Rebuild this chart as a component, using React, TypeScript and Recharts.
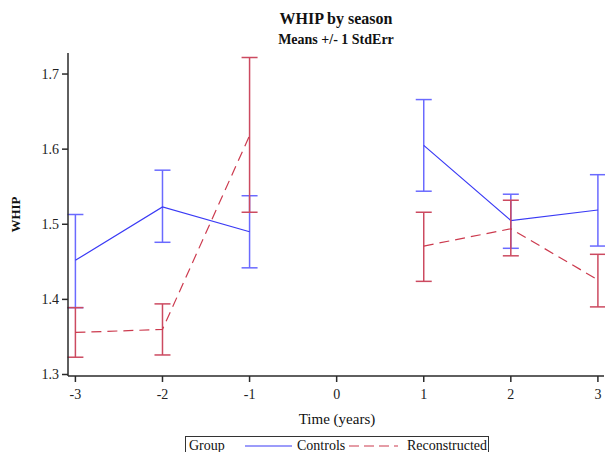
import type { FC } from 'react';
import { LineChart, Line, XAxis, YAxis, ErrorBar } from 'recharts';

const times = [-3, -2, -1, 0, 1, 2, 3];

const controlsMean = [1.452, 1.523, 1.49, null, 1.605, 1.505, 1.519];
const controlsLow = [1.389, 1.476, 1.442, null, 1.544, 1.468, 1.471];
const controlsHigh = [1.513, 1.572, 1.538, null, 1.666, 1.54, 1.566];

const reconMean = [1.356, 1.36, 1.618, null, 1.471, 1.494, 1.426];
const reconLow = [1.323, 1.326, 1.516, null, 1.424, 1.458, 1.39];
const reconHigh = [1.389, 1.394, 1.722, null, 1.516, 1.532, 1.46];

const xTicks = [-3, -2, -1, 0, 1, 2, 3];
const yTicks = [1.3, 1.4, 1.5, 1.6, 1.7];

const errOf = (m: number | null, lo: number | null, hi: number | null) =>
  m == null || lo == null || hi == null ? null : [m - lo, hi - m];

const data = times.map((t, i) => ({
  time: t,
  controls: controlsMean[i],
  controlsErr: errOf(controlsMean[i], controlsLow[i], controlsHigh[i]),
  recon: reconMean[i],
  reconErr: errOf(reconMean[i], reconLow[i], reconHigh[i]),
}));

const FONT = '"Liberation Serif", "Times New Roman", serif';
const AXIS = '#2a2a2a';
const BLUE = '#3a3af5';
const BLUE_ERR = '#6a6aff';
const RED = '#cc3a4e';
const RED_ERR = '#cc4a60';

const tickStyle = { fontFamily: FONT, fontSize: 14, fill: '#222' };

const App: FC = () => {
  return (
    <div
      style={{
        position: 'absolute',
        left: 0,
        top: 0,
        width: 605,
        height: 452,
        background: '#fff',
        fontFamily: FONT,
        overflow: 'hidden',
      }}
    >
      <div
        style={{
          position: 'absolute',
          top: 10,
          left: 0,
          width: 672,
          textAlign: 'center',
          fontWeight: 'bold',
          fontSize: 16,
          color: '#111',
        }}
      >
        WHIP by season
      </div>
      <div
        style={{
          position: 'absolute',
          top: 32,
          left: 0,
          width: 672,
          textAlign: 'center',
          fontWeight: 'bold',
          fontSize: 14,
          color: '#111',
        }}
      >
        Means +/- 1 StdErr
      </div>

      <LineChart
        width={605}
        height={452}
        data={data}
        margin={{ top: 53, right: 1, bottom: 46, left: 0 }}
      >
        <XAxis
          dataKey="time"
          type="number"
          domain={[-3.085, 3.07]}
          ticks={xTicks}
          allowDataOverflow
          height={30}
          stroke={AXIS}
          strokeWidth={1.5}
          tickSize={6}
          tickMargin={7}
          tick={tickStyle}
        />
        <XAxis
          xAxisId="top"
          dataKey="time"
          type="number"
          orientation="top"
          domain={[-3.085, 3.07]}
          allowDataOverflow
          height={0}
          tick={false}
          tickLine={false}
          stroke={AXIS}
          strokeWidth={1.5}
        />
        <YAxis
          type="number"
          domain={[1.298, 1.728]}
          ticks={yTicks}
          allowDataOverflow
          width={68}
          stroke={AXIS}
          strokeWidth={1.5}
          tickSize={6}
          tickMargin={3}
          tick={tickStyle}
          tickFormatter={(v: number) => v.toFixed(1)}
          label={{
            value: 'WHIP',
            angle: -90,
            position: 'insideLeft',
            offset: 15,
            style: { fontFamily: FONT, fontSize: 13, fontWeight: 'bold', fill: '#111', textAnchor: 'middle' },
          }}
        />
        <YAxis
          yAxisId="right"
          orientation="right"
          domain={[1.298, 1.728]}
          width={0}
          tick={false}
          tickLine={false}
          stroke={AXIS}
          strokeWidth={1.5}
        />
        <Line
          dataKey="controls"
          stroke={BLUE}
          strokeWidth={1.2}
          dot={false}
          isAnimationActive={false}
        >
          <ErrorBar dataKey="controlsErr" width={8} stroke={BLUE_ERR} strokeWidth={1.5} direction="y" />
        </Line>
        <Line
          dataKey="recon"
          stroke={RED}
          strokeWidth={1.2}
          strokeDasharray="10 6"
          dot={false}
          isAnimationActive={false}
        >
          <ErrorBar dataKey="reconErr" width={8} stroke={RED_ERR} strokeWidth={1.5} direction="y" />
        </Line>
      </LineChart>

      <div
        style={{
          position: 'absolute',
          top: 411,
          left: 0,
          width: 674,
          textAlign: 'center',
          fontSize: 15,
          color: '#111',
        }}
      >
        Time (years)
      </div>

      <div
        style={{
          position: 'absolute',
          left: 185,
          top: 436,
          width: 304,
          height: 26,
          border: '1.5px solid #333',
          boxSizing: 'border-box',
          fontSize: 14,
          color: '#111',
        }}
      >
        <span style={{ position: 'absolute', left: 3, top: 1 }}>Group</span>
        <svg style={{ position: 'absolute', left: 59, top: 0 }} width={50} height={20}>
          <line x1={0} y1={9} x2={47} y2={9} stroke={BLUE} strokeWidth={1.2} />
        </svg>
        <span style={{ position: 'absolute', left: 111, top: 1 }}>Controls</span>
        <svg style={{ position: 'absolute', left: 163, top: 0 }} width={52} height={20}>
          <line x1={0} y1={9} x2={49} y2={9} stroke={RED} strokeWidth={1.2} strokeDasharray="10 5" />
        </svg>
        <span style={{ position: 'absolute', left: 221, top: 1 }}>Reconstructed</span>
      </div>
    </div>
  );
};

export default App;
